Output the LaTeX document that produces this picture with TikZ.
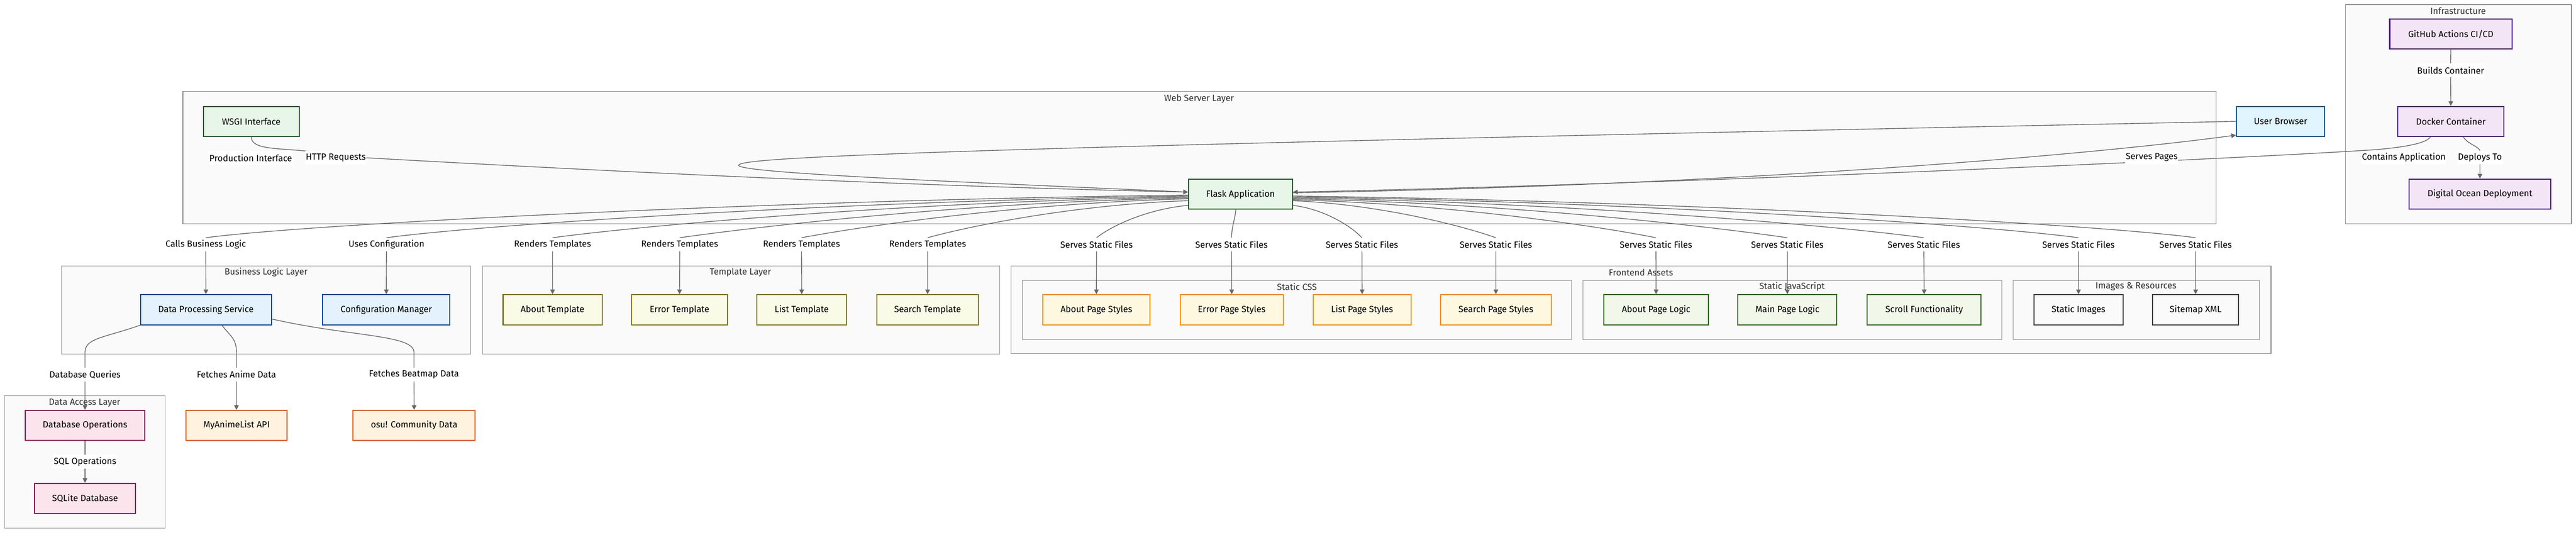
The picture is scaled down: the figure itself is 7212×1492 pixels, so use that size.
\documentclass[tikz,border=0pt]{standalone}
\usepackage{fontspec}
\setmainfont{Fira Sans}
\usetikzlibrary{arrows.meta}
\pgfdeclarelayer{back}
\pgfdeclarelayer{mid}
\pgfsetlayers{back,mid,main}
\definecolor{cline}{HTML}{666666}
\definecolor{cgroup}{HTML}{FAFAFA}
\definecolor{cgroupline}{HTML}{8C8C8C}
\definecolor{ctitle}{HTML}{333333}
\definecolor{cwebf}{HTML}{E8F5E9}
\definecolor{cwebd}{HTML}{1B5E20}
\definecolor{cclientf}{HTML}{E1F5FE}
\definecolor{cclientd}{HTML}{01579B}
\definecolor{clogicf}{HTML}{E3F2FD}
\definecolor{clogicd}{HTML}{0D47A1}
\definecolor{ctmplf}{HTML}{F9FBE7}
\definecolor{ctmpld}{HTML}{827717}
\definecolor{ccssf}{HTML}{FFF8E1}
\definecolor{ccssd}{HTML}{FF8F00}
\definecolor{cjsf}{HTML}{F1F8E9}
\definecolor{cjsd}{HTML}{33691E}
\definecolor{cimgf}{HTML}{FAFAFA}
\definecolor{cimgd}{HTML}{424242}
\definecolor{cdataf}{HTML}{FCE4EC}
\definecolor{cdatad}{HTML}{880E4F}
\definecolor{cextf}{HTML}{FFF3E0}
\definecolor{cextd}{HTML}{E65100}
\definecolor{cinfraf}{HTML}{F3E5F5}
\definecolor{cinfrad}{HTML}{4A148C}

\begin{document}
\begin{tikzpicture}[x=1pt, y=-1pt,
  font=\fontsize{25}{30}\selectfont,
  box/.style={draw, line width=3pt, minimum height=84pt, inner sep=0pt},
  web/.style={box, fill=cwebf, draw=cwebd},
  client/.style={box, fill=cclientf, draw=cclientd},
  logic/.style={box, fill=clogicf, draw=clogicd},
  tmpl/.style={box, fill=ctmplf, draw=ctmpld},
  css/.style={box, fill=ccssf, draw=ccssd},
  js/.style={box, fill=cjsf, draw=cjsd},
  img/.style={box, fill=cimgf, draw=cimgd},
  data/.style={box, fill=cdataf, draw=cdatad},
  ext/.style={box, fill=cextf, draw=cextd},
  infra/.style={box, fill=cinfraf, draw=cinfrad},
  cluster/.style={fill=cgroup, draw=cgroupline, line width=1.6pt},
  grouptitle/.style={text=ctitle, inner sep=0pt},
  lbl/.style={fill=white, inner xsep=2pt, inner ysep=0pt, minimum height=38pt},
  link/.style={draw=cline, line width=2pt},
  arr/.style={link, -{Triangle[length=13pt, width=13pt]}}]

  \begin{pgfonlayer}{back}
    \fill [white] (0, 0) rectangle (7212, 1492);
    \draw [cluster] (512, 256) rectangle (6204, 627);
    \draw [cluster] (6566, 13) rectangle (7199, 627);
    \draw [cluster] (173, 745) rectangle (1318, 991);
    \draw [cluster] (1351, 745) rectangle (2799, 991);
    \draw [cluster] (2831, 745) rectangle (6358, 990);
    \draw [cluster] (2862, 785) rectangle (4400, 951);
    \draw [cluster] (4432, 785) rectangle (5604, 951);
    \draw [cluster] (5636, 785) rectangle (6326, 951);
    \draw [cluster] (12, 1109) rectangle (462, 1479);
  \end{pgfonlayer}
  \useasboundingbox (0, 0) rectangle (7212, 1492);

  \node [grouptitle] (webtitle) at (3357, 277) {Web Server Layer};
  \node [grouptitle] (infratitle) at (6882, 31) {Infrastructure};
  \node [grouptitle] (logictitle) at (745, 763) {Business Logic Layer};
  \node [grouptitle] (tmpltitle) at (2073, 763) {Template Layer};
  \node [grouptitle] (fronttitle) at (4594, 763) {Frontend Assets};
  \node [grouptitle] (csstitle) at (3631, 803) {Static CSS};
  \node [grouptitle] (jstitle) at (5017, 803) {Static JavaScript};
  \node [grouptitle] (imgtitle) at (5980, 803) {Images \& Resources};
  \node [grouptitle] (datatitle) at (237, 1128) {Data Access Layer};

  \node [web, minimum width=268pt] (wsgi) at (703.5, 340) {WSGI Interface};
  \node [web, minimum width=291pt] (flask) at (3473, 544) {Flask Application};
  \node [client, minimum width=247pt] (user) at (6385, 340) {User Browser};

  \node [infra, minimum width=342pt] (github) at (6861.5, 95.5) {GitHub Actions CI/CD};
  \node [infra, minimum width=296pt] (docker) at (6861.5, 340) {Docker Container};
  \node [infra, minimum width=397pt] (ocean) at (6943, 543.5) {Digital Ocean Deployment};

  \node [logic, minimum width=366pt] (dataservice) at (576.5, 867.5) {Data Processing Service};
  \node [logic, minimum width=356pt] (config) at (1081.5, 867.5) {Configuration Manager};

  \node [tmpl, minimum width=277pt] (abouttpl) at (1547, 867.5) {About Template};
  \node [tmpl, minimum width=268pt] (errortpl) at (1902.5, 867.5) {Error Template};
  \node [tmpl, minimum width=250pt] (listtpl) at (2244.5, 867.5) {List Template};
  \node [tmpl, minimum width=285pt] (searchtpl) at (2597, 867.5) {Search Template};

  \node [css, minimum width=300pt] (aboutcss) at (3069.5, 867.5) {About Page Styles};
  \node [css, minimum width=288pt] (errorcss) at (3448.5, 867.5) {Error Page Styles};
  \node [css, minimum width=274pt] (listcss) at (3813.5, 867.5) {List Page Styles};
  \node [css, minimum width=309pt] (searchcss) at (4188, 867.5) {Search Page Styles};
  \node [js, minimum width=292pt] (aboutjs) at (4636.5, 867.5) {About Page Logic};
  \node [js, minimum width=277pt] (mainjs) at (5004, 867.5) {Main Page Logic};
  \node [js, minimum width=319pt] (scrolljs) at (5387, 867.5) {Scroll Functionality};
  \node [img, minimum width=249pt] (images) at (5819, 867.5) {Static Images};
  \node [img, minimum width=241pt] (sitemap) at (6147, 867.5) {Sitemap XML};

  \node [data, minimum width=335pt] (dbops) at (238, 1191.5) {Database Operations};
  \node [data, minimum width=283pt] (sqlite) at (238, 1396) {SQLite Database};
  \node [ext, minimum width=283pt] (anime) at (662, 1191.5) {MyAnimeList API};
  \node [ext, minimum width=342pt] (osu) at (1159.5, 1191.5) {osu! Community Data};

  \node [lbl] (lprod) at (702, 442) {Production Interface};
  \node [lbl] (lhttp) at (940, 442) {HTTP Requests};
  \node [lbl] (lpages) at (6024, 441) {Serves Pages};
  \node [lbl] (lbuild) at (6861, 197) {Builds Container};
  \node [lbl] (lcontain) at (6730, 441) {Contains Application};
  \node [lbl] (ldeploy) at (6943, 441) {Deploys To};
  \node [lbl] (lcalls) at (576, 685) {Calls Business Logic};
  \node [lbl] (lconfig) at (1082, 685) {Uses Configuration};
  \node [lbl] (lrender1) at (1547, 685) {Renders Templates};
  \node [lbl] (lrender2) at (1903, 685) {Renders Templates};
  \node [lbl] (lrender3) at (2244, 685) {Renders Templates};
  \node [lbl] (lrender4) at (2597, 685) {Renders Templates};
  \node [lbl] (lserve1) at (3070, 685) {Serves Static Files};
  \node [lbl] (lserve2) at (3448, 685) {Serves Static Files};
  \node [lbl] (lserve3) at (3813, 685) {Serves Static Files};
  \node [lbl] (lserve4) at (4188, 685) {Serves Static Files};
  \node [lbl] (lserve5) at (4636, 685) {Serves Static Files};
  \node [lbl] (lserve6) at (5004, 685) {Serves Static Files};
  \node [lbl] (lserve7) at (5386, 685) {Serves Static Files};
  \node [lbl] (lserve8) at (5819, 685) {Serves Static Files};
  \node [lbl] (lserve9) at (6147, 685) {Serves Static Files};
  \node [lbl] (lquery) at (238, 1049) {Database Queries};
  \node [lbl] (lanime) at (662, 1049) {Fetches Anime Data};
  \node [lbl] (lbeat) at (1159, 1049) {Fetches Beatmap Data};
  \node [lbl] (lsql) at (238, 1293) {SQL Operations};
  \coordinate (loop) at (2068, 463);

  \begin{pgfonlayer}{mid}
    \draw [arr] (wsgi.south) .. controls +(0, 35) and +(-80, -8) .. (lhttp.north west)
      -- (lhttp.east) .. controls +(800, 45) and +(-700, -15) .. ([yshift=6pt]flask.west);
    \draw [arr] (user.west) .. controls (2600, 415) and (2068, 440) .. (loop)
      .. controls (2068, 485) and (2700, 510) .. ([yshift=6pt]flask.west);
    \draw [arr] ([yshift=4pt]flask.east) .. controls +(1180, -20) and +(-460, 62) .. ([yshift=5pt]user.south west);
    \draw [arr] ([xshift=-57pt]docker.south) .. controls +(-14, 22) and +(88, -5) .. (lcontain.north west)
      .. controls +(-612, 37) and +(880, -18) .. ([yshift=6pt]flask.east);
    \draw [link] ([xshift=35pt]docker.south) .. controls +(12, 20) and +(-4, -12) .. (ldeploy.north);
    \draw [arr] (ldeploy.south) -- (ocean.north);
    \draw [arr] (github.south) -- (lbuild.north) (lbuild.south) -- (docker.north);

    \draw [arr] (flask.181) .. controls +(-1100, 12) and +(300, -40) .. (lcalls.north) (lcalls.south) -- (dataservice.north);
    \draw [arr] (flask.182) .. controls +(-898, 12) and +(300, -40) .. (lconfig.north) (lconfig.south) -- (config.north);
    \draw [arr] (flask.183) .. controls +(-712, 11) and +(300, -40) .. (lrender1.north) (lrender1.south) -- (abouttpl.north);
    \draw [arr] (flask.184) .. controls +(-569, 11) and +(285, -40) .. (lrender2.north) (lrender2.south) -- (errortpl.north);
    \draw [arr] (flask.185) .. controls +(-433, 11) and +(216, -40) .. (lrender3.north) (lrender3.south) -- (listtpl.north);
    \draw [arr] (flask.187) .. controls +(-292, 10) and +(146, -40) .. (lrender4.north) (lrender4.south) -- (searchtpl.north);
    \draw [arr] (flask.192) .. controls +(-102, 9) and +(51, -40) .. (lserve1.north) (lserve1.south) -- (aboutcss.north);
    \draw [arr] ([xshift=-13pt]flask.south) .. controls +(-3, 30) and +(0, -30) .. (lserve2.north) (lserve2.south) -- (errorcss.north);
    \draw [arr] (flask.-12) .. controls +(77, 9) and +(-38, -40) .. (lserve3.north) (lserve3.south) -- (listcss.north);
    \draw [arr] (flask.-7) .. controls +(227, 10) and +(-114, -40) .. (lserve4.north) (lserve4.south) -- (searchcss.north);
    \draw [arr] (flask.-6) .. controls +(406, 11) and +(-203, -40) .. (lserve5.north) (lserve5.south) -- (aboutjs.north);
    \draw [arr] (flask.-5) .. controls +(554, 11) and +(-277, -40) .. (lserve6.north) (lserve6.south) -- (mainjs.north);
    \draw [arr] (flask.-4) .. controls +(706, 11) and +(-300, -40) .. (lserve7.north) (lserve7.south) -- (scrolljs.north);
    \draw [arr] (flask.-3) .. controls +(879, 11) and +(-300, -40) .. (lserve8.north) (lserve8.south) -- (images.north);
    \draw [arr] (flask.-2) .. controls +(1011, 12) and +(-300, -40) .. (lserve9.north) (lserve9.south) -- (sitemap.north);

    \draw [arr] (dataservice.south west) .. controls +(-100, 35) and +(0, -40) .. ([yshift=43pt]lquery.north)
      -- (lquery.north) (lquery.south) -- (dbops.north);
    \draw [arr] ([xshift=45pt]dataservice.south) .. controls +(22, 30) and +(0, -40) .. ([yshift=43pt]lanime.north)
      -- (lanime.north) (lanime.south) -- (anime.north);
    \draw [arr] ([yshift=-26pt]dataservice.east) .. controls +(220, 50) and +(0, -50) .. ([yshift=43pt]lbeat.north)
      -- (lbeat.north) (lbeat.south) -- (osu.north);
    \draw [arr] (dbops.south) -- (lsql.north) (lsql.south) -- (sqlite.north);
  \end{pgfonlayer}
\end{tikzpicture}
\end{document}
